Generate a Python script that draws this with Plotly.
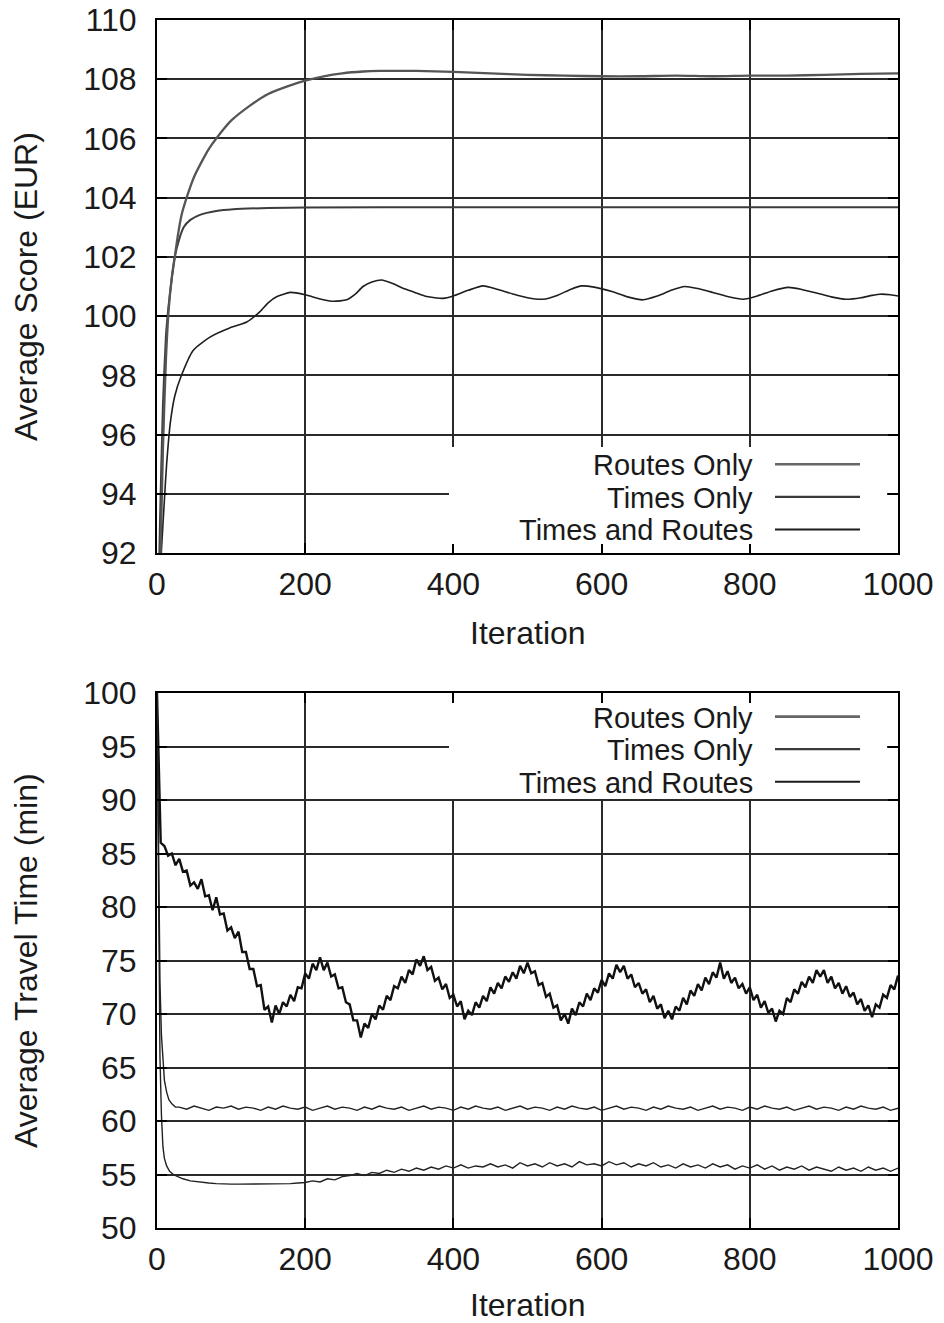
import plotly.graph_objects as go

# ---------------- data: top chart (Average Score, EUR) ----------------
score_tr_x = [0, 4, 8, 12, 16, 20, 24, 28, 33, 40, 50, 60, 70, 80, 100, 125, 150, 175, 200,
              225, 250, 278, 300, 350, 400, 450, 500, 550, 600, 650, 700, 750, 800, 850, 900, 950, 1000]
score_tr_y = [86.0, 91.0, 95.5, 98.5, 100.3, 101.3, 102.0, 102.7, 103.4, 104.0, 104.7, 105.2, 105.65,
              106.0, 106.6, 107.1, 107.5, 107.75, 107.95, 108.1, 108.2, 108.26, 108.28, 108.28, 108.25,
              108.2, 108.15, 108.12, 108.1, 108.1, 108.12, 108.1, 108.12, 108.12, 108.15, 108.18, 108.2]

score_to_x = [0, 4, 8, 12, 15, 20, 24, 30, 36, 45, 58, 80, 103, 150, 200, 400, 600, 800, 1000]
score_to_y = [88.0, 93.0, 97.0, 99.3, 100.2, 101.3, 102.0, 102.6, 103.0, 103.25, 103.42, 103.55,
              103.61, 103.65, 103.67, 103.68, 103.68, 103.68, 103.68]

score_ro_x = [0, 6, 10, 13, 18, 24, 33, 49, 72, 98, 121, 139, 150, 162, 180, 200, 220, 238, 256,
              268, 278, 290, 303, 318, 332, 348, 364, 386, 400, 420, 440, 460, 480, 500, 521, 540,
              558, 573, 590, 615, 635, 656, 675, 695, 712, 730, 750, 770, 791, 810, 830, 852, 870,
              890, 910, 930, 950, 965, 976, 990, 1000]
score_ro_y = [89.0, 92.1, 93.8, 95.0, 96.4, 97.3, 98.0, 98.85, 99.3, 99.6, 99.8, 100.15, 100.45,
              100.66, 100.8, 100.72, 100.58, 100.5, 100.55, 100.75, 101.0, 101.15, 101.22, 101.1,
              100.94, 100.8, 100.66, 100.6, 100.68, 100.87, 101.02, 100.9, 100.75, 100.62, 100.57,
              100.7, 100.9, 101.02, 100.98, 100.82, 100.65, 100.55, 100.68, 100.88, 101.0, 100.93,
              100.8, 100.66, 100.57, 100.68, 100.85, 100.97, 100.9, 100.78, 100.65, 100.57, 100.62,
              100.7, 100.74, 100.72, 100.68]

# ---------------- data: bottom chart (Average Travel Time, min) ----------------
tt_ro_x = list(range(0, 1001, 5))
tt_ro_y = [
    100.0, 86.0, 85.7, 84.8, 85.0, 83.9, 84.5, 83.3, 83.4, 82.0,
    82.3, 81.7, 82.6, 81.0, 81.1, 79.7, 80.9, 79.3, 79.4, 77.8,
    78.1, 77.1, 77.7, 75.8, 75.8, 74.2, 74.2, 72.6, 72.7, 70.4,
    70.7, 69.2, 70.8, 70.0, 71.1, 70.7, 71.8, 71.2, 72.5, 72.4,
    73.8, 73.3, 74.7, 74.1, 75.3, 74.1, 74.8, 73.5, 73.7, 72.4,
    72.5, 71.1, 70.9, 69.4, 69.4, 67.8, 69.1, 68.7, 70.0, 69.5,
    70.8, 70.4, 71.7, 71.3, 72.6, 72.4, 73.5, 72.9, 74.1, 73.7,
    75.1, 74.5, 75.4, 74.1, 74.4, 73.1, 73.4, 72.3, 72.8, 71.5,
    71.8, 70.7, 71.2, 69.5, 70.3, 69.9, 71.1, 70.6, 71.7, 71.2,
    72.5, 71.9, 72.9, 72.4, 73.5, 73.0, 73.9, 73.3, 74.5, 73.8,
    74.8, 73.8, 74.0, 72.7, 72.9, 71.6, 71.9, 70.6, 70.8, 69.4,
    70.0, 69.1, 70.5, 69.9, 71.1, 70.7, 71.9, 71.3, 72.4, 72.0,
    73.2, 72.6, 73.8, 73.3, 74.6, 73.9, 74.5, 73.3, 73.7, 72.5,
    72.9, 71.9, 72.3, 71.1, 71.7, 70.5, 70.9, 69.6, 70.3, 69.5,
    70.7, 70.3, 71.5, 70.9, 72.2, 71.7, 72.8, 72.2, 73.4, 72.8,
    73.9, 73.4, 74.8, 73.3, 74.0, 72.9, 73.4, 72.4, 72.8, 71.9,
    72.5, 71.3, 71.8, 70.6, 71.2, 70.1, 70.5, 69.3, 70.3, 70.0,
    71.5, 71.1, 72.3, 71.9, 73.0, 72.5, 73.5, 72.9, 74.1, 73.5,
    74.1, 72.9, 73.5, 72.4, 72.9, 71.9, 72.6, 71.6, 72.0, 70.9,
    71.4, 70.3, 70.8, 69.7, 70.9, 70.6, 71.8, 71.5, 72.7, 72.3,
    73.6]

tt_to_x = [0, 2, 4, 6, 8, 10, 13, 16, 20, 25] + list(range(30, 1001, 10))
tt_to_y = [100.0, 84.0, 73.0, 68.0, 65.2, 63.8, 62.7, 62.0, 61.6, 61.3,
           61.3, 61.1, 61.4, 61.2, 61.0, 61.3, 61.2, 61.4, 61.1, 61.3,
           61.2, 61.0, 61.3, 61.1, 61.4, 61.2, 61.1, 61.3, 61.0, 61.2,
           61.4, 61.1, 61.3, 61.2, 61.0, 61.3, 61.1, 61.4, 61.2, 61.1,
           61.3, 61.0, 61.2, 61.4, 61.1, 61.3, 61.2, 61.0, 61.3, 61.1,
           61.4, 61.2, 61.1, 61.3, 61.0, 61.2, 61.4, 61.1, 61.3, 61.2,
           61.0, 61.3, 61.1, 61.4, 61.2, 61.1, 61.3, 61.0, 61.2, 61.4,
           61.1, 61.3, 61.2, 61.0, 61.3, 61.1, 61.4, 61.2, 61.1, 61.3,
           61.0, 61.2, 61.4, 61.1, 61.3, 61.2, 61.0, 61.3, 61.1, 61.4,
           61.2, 61.1, 61.3, 61.0, 61.2, 61.4, 61.1, 61.3, 61.2, 61.0,
           61.3, 61.1, 61.4, 61.2, 61.1, 61.3, 61.0, 61.2]

tt_tr_x = [0, 2, 4, 6, 8, 10, 13, 17, 22, 28, 35, 45] + list(range(60, 1001, 10))
tt_tr_y = [100.0, 78.0, 66.0, 60.5, 57.6, 56.5, 55.8, 55.3, 55.0, 54.8, 54.6, 54.4,
           54.25, 54.2, 54.15, 54.1, 54.1, 54.1, 54.1, 54.1, 54.1, 54.1, 54.1, 54.15, 54.15, 54.2, 54.25,
           54.4, 54.3, 54.6, 54.5, 54.8, 54.9, 55.1, 54.9, 55.2, 55.1,
           55.4, 55.2, 55.5, 55.3, 55.6, 55.4, 55.7, 55.5, 55.8, 55.6,
           55.9, 55.6, 55.8, 55.7, 56.0, 55.7, 55.9, 55.6, 56.1, 55.8,
           56.0, 55.7, 56.1, 55.8, 56.0, 55.7, 56.2, 55.9, 56.0, 55.8,
           56.2, 55.9, 56.1, 55.7, 56.0, 55.8, 56.1, 55.7, 55.9, 55.6,
           56.0, 55.7, 55.9, 55.6, 56.0, 55.7, 55.9, 55.5, 55.8, 55.6,
           55.9, 55.5, 55.8, 55.4, 55.7, 55.5, 55.8, 55.4, 55.7, 55.5,
           55.3, 55.7, 55.4, 55.6, 55.3, 55.7, 55.4, 55.6, 55.3, 55.6]

series_names = ["Routes Only", "Times Only", "Times and Routes"]
x_ticks = [0, 200, 400, 600, 800, 1000]
score_ticks = [92, 94, 96, 98, 100, 102, 104, 106, 108, 110]
tt_ticks = [50, 55, 60, 65, 70, 75, 80, 85, 90, 95, 100]

# ---------------- figure ----------------
W, H = 944, 1323
FONT = "Liberation Sans, Arial, Helvetica, sans-serif"
FS = 32
KEY_FS = 29
TXT = "#1a1a1a"
GRID = "#2a2a2a"


def px_x(p):
    return p / W


def px_y(p):
    return 1 - p / H


fig = go.Figure()

fig.add_trace(go.Scatter(x=score_ro_x, y=score_ro_y, mode="lines", line=dict(color="#1e1e1e", width=1.6, shape="spline", smoothing=0.6), xaxis="x", yaxis="y", showlegend=False))
fig.add_trace(go.Scatter(x=score_to_x, y=score_to_y, mode="lines", line=dict(color="#3c3c3c", width=2.0, shape="spline", smoothing=0.6), xaxis="x", yaxis="y", showlegend=False))
fig.add_trace(go.Scatter(x=score_tr_x, y=score_tr_y, mode="lines", line=dict(color="#555555", width=2.3, shape="spline", smoothing=0.6), xaxis="x", yaxis="y", showlegend=False))

fig.add_trace(go.Scatter(x=tt_ro_x, y=tt_ro_y, mode="lines", line=dict(color="#111111", width=2.4), xaxis="x2", yaxis="y2", showlegend=False))
fig.add_trace(go.Scatter(x=tt_to_x, y=tt_to_y, mode="lines", line=dict(color="#222222", width=1.4), xaxis="x2", yaxis="y2", showlegend=False))
fig.add_trace(go.Scatter(x=tt_tr_x, y=tt_tr_y, mode="lines", line=dict(color="#222222", width=1.4), xaxis="x2", yaxis="y2", showlegend=False))

xdom = [px_x(157), px_x(898)]
top_dom = [px_y(553), px_y(20)]
bot_dom = [px_y(1228), px_y(693)]

common = dict(
    showline=True, linecolor="black", linewidth=2, mirror="allticks",
    ticks="inside", ticklen=10, tickwidth=1.5, tickcolor="black",
    showgrid=True, gridcolor=GRID, gridwidth=1.6, zeroline=False, automargin=False,
    tickfont=dict(family=FONT, size=FS, color=TXT),
)

fig.update_layout(
    width=W, height=H,
    margin=dict(l=0, r=0, t=0, b=0, pad=0, autoexpand=False),
    paper_bgcolor="white", plot_bgcolor="white",
    showlegend=False,
    xaxis=dict(domain=xdom, range=[0, 1000], tickvals=x_ticks, anchor="y", ticklabelstandoff=2, **common),
    yaxis=dict(domain=top_dom, range=[92, 110], tickvals=score_ticks, anchor="x", ticklabelstandoff=12, **common),
    xaxis2=dict(domain=xdom, range=[0, 1000], tickvals=x_ticks, anchor="y2", ticklabelstandoff=2, **common),
    yaxis2=dict(domain=bot_dom, range=[50, 100], tickvals=tt_ticks, anchor="x2", ticklabelstandoff=12, **common),
)

shapes = []
annotations = []

# white key boxes (hide grid behind the key, as in gnuplot)
for (top_px, bot_px) in [(447, 544), (703, 799)]:
    shapes.append(dict(type="rect", xref="paper", yref="paper",
                       x0=px_x(449), x1=px_x(887), y0=px_y(bot_px), y1=px_y(top_px),
                       fillcolor="white", line=dict(width=0), layer="above"))

key_colors = ["#666666", "#3a3a3a", "#1a1a1a"]
key_widths = [2.6, 2.2, 2.0]
for rows in [(464.2, 496.8, 529.4), (716.6, 749.2, 781.8)]:
    for name, ry, col, lw in zip(series_names, rows, key_colors, key_widths):
        annotations.append(dict(text=name, xref="paper", yref="paper", x=px_x(755), y=px_y(ry + 1),
                                xanchor="right", yanchor="middle", showarrow=False,
                                font=dict(family=FONT, size=KEY_FS, color=TXT)))
        shapes.append(dict(type="line", xref="paper", yref="paper",
                           x0=px_x(775), x1=px_x(860), y0=px_y(ry), y1=px_y(ry),
                           line=dict(color=col, width=lw), layer="above"))

# axis titles
for ycen in (633, 1305):
    annotations.append(dict(text="Iteration", xref="paper", yref="paper", x=px_x(527.5), y=px_y(ycen),
                            xanchor="center", yanchor="middle", showarrow=False,
                            font=dict(family=FONT, size=FS, color=TXT)))
annotations.append(dict(text="Average Score (EUR)", xref="paper", yref="paper", x=px_x(26), y=px_y(287),
                        xanchor="center", yanchor="middle", textangle=-90, showarrow=False,
                        font=dict(family=FONT, size=FS, color=TXT)))
annotations.append(dict(text="Average Travel Time (min)", xref="paper", yref="paper", x=px_x(26), y=px_y(961),
                        xanchor="center", yanchor="middle", textangle=-90, showarrow=False,
                        font=dict(family=FONT, size=FS, color=TXT)))

fig.update_layout(shapes=shapes, annotations=annotations)

fig.write_html("out.html")
